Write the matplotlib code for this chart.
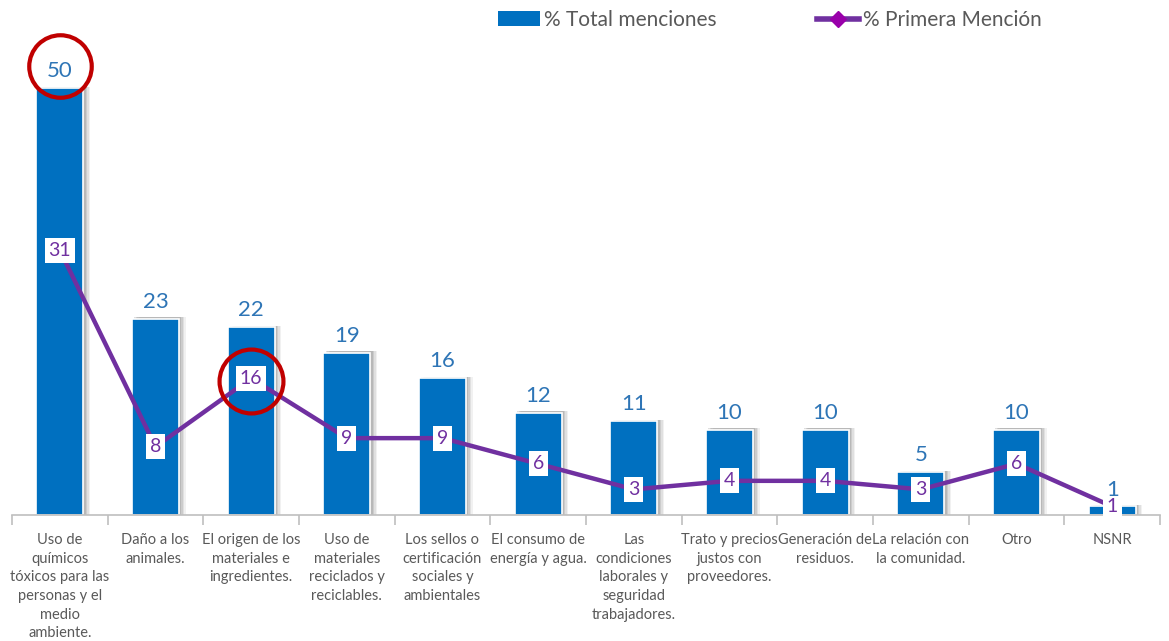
import numpy as np
import matplotlib.pyplot as plt
from matplotlib.lines import Line2D
from matplotlib.patches import Patch

plt.rcParams['font.family'] = ['Lato', 'DejaVu Sans']

categories = [
    'Uso de\nquímicos\ntóxicos para las\npersonas y el\nmedio\nambiente.',
    'Daño a los\nanimales.',
    'El origen de los\nmateriales e\ningredientes.',
    'Uso de\nmateriales\nreciclados y\nreciclables.',
    'Los sellos o\ncertificación\nsociales y\nambientales',
    'El consumo de\nenergía y agua.',
    'Las\ncondiciones\nlaborales y\nseguridad\ntrabajadores.',
    'Trato y precios\njustos con\nproveedores.',
    'Generación de\nresiduos.',
    'La relación con\nla comunidad.',
    'Otro',
    'NSNR',
]
total_menciones = [50, 23, 22, 19, 16, 12, 11, 10, 10, 5, 10, 1]
primera_mencion = [31, 8, 16, 9, 9, 6, 3, 4, 4, 3, 6, 1]
circled_bars = [0]
circled_points = [2]

bar_color = '#0070C0'
line_color = '#7030A0'
text_gray = '#595959'

fig = plt.figure(figsize=(11.69, 6.41), dpi=100)
ax = fig.add_axes([12 / 1169, 126 / 641, 1148 / 1169, 515 / 641])

x = np.arange(len(categories))
w = 0.49

# soft shadow to the right of each bar
for dx, a in [(0.07, 0.10), (0.055, 0.15), (0.04, 0.2), (0.025, 0.25)]:
    ax.bar(x + dx, np.array(total_menciones) + 0.15, width=w, color='#7f7f7f',
           alpha=a, linewidth=0, zorder=1)
ax.bar(x, total_menciones, width=w, color=bar_color, edgecolor='white',
       linewidth=1.2, zorder=2)

for xi, v in zip(x, total_menciones):
    ax.annotate(str(v), (xi, v), xytext=(0, 5), textcoords='offset points',
                ha='center', va='bottom', fontsize=16,
                color='#2E75B6', zorder=5)

ax.plot(x, primera_mencion, color=line_color, linewidth=3.2, zorder=3,
        solid_capstyle='round')
for xi, v in zip(x, primera_mencion):
    ax.text(xi, v, str(v), ha='center', va='center', fontsize=14,
            color=line_color, zorder=4,
            bbox=dict(boxstyle='square,pad=0.2', fc='white', ec='none'))

# red highlight circles
for i in circled_bars:
    ax.plot(x[i], total_menciones[i] + 2.6, 'o', ms=45, mfc='none',
            mec='#C00000', mew=3, zorder=6)
for i in circled_points:
    ax.plot(x[i], primera_mencion[i] - 0.3, 'o', ms=46, mfc='none',
            mec='#C00000', mew=3, zorder=6)

ax.set_xlim(-0.5, len(categories) - 0.5)
ax.set_ylim(0, 515 / 8.54)
ax.set_yticks([])
for s in ['top', 'right', 'left']:
    ax.spines[s].set_visible(False)
ax.spines['bottom'].set_color('#BFBFBF')
ax.spines['bottom'].set_linewidth(1.2)

ax.set_xticks(x)
ax.set_xticklabels(categories, fontsize=10.5, color=text_gray, linespacing=1.42)
ax.tick_params(axis='x', length=0, pad=13)
ax.set_xticks(np.arange(-0.5, len(categories)), minor=True)
ax.tick_params(axis='x', which='minor', length=7, color='#BFBFBF', width=1.2)

handles = [
    Patch(facecolor=bar_color, edgecolor='none'),
    Line2D([0], [0], color=line_color, lw=4, marker='D', ms=8,
           mfc='#9900AA', mec='#9900AA'),
]
fig.legend(handles, ['% Total menciones', '% Primera Mención'],
           loc='center', bbox_to_anchor=(770 / 1169, 1 - 20 / 641), ncol=2,
           frameon=False, fontsize=15, labelcolor=text_gray,
           handlelength=2.0, handletextpad=0.2, columnspacing=4.8)

plt.savefig('out.png', dpi=100)
